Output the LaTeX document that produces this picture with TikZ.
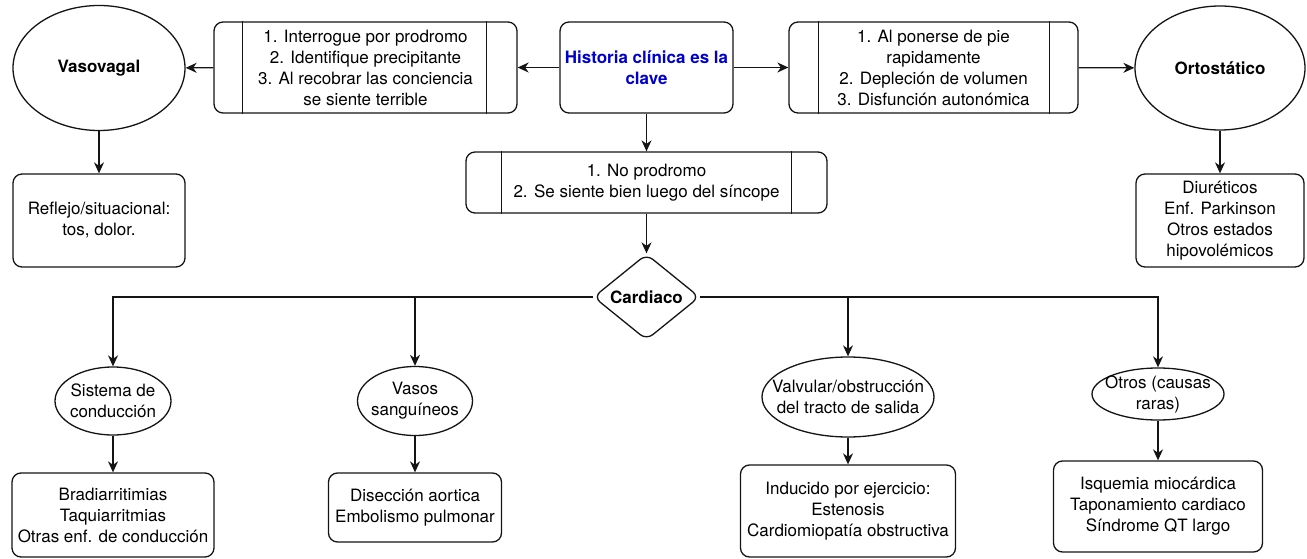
\documentclass[tikz,border=0pt]{standalone}
\usepackage{fontspec}
\setmainfont{TeX Gyre Heros}
\usetikzlibrary{shapes.geometric,arrows.meta}
\definecolor{hblue}{RGB}{0,0,204}
\definecolor{lnc}{RGB}{20,20,20}
\begin{document}
\begin{tikzpicture}[x=1pt,y=-1pt,
  every node/.style={font=\fontsize{17}{21}\selectfont, align=center, inner sep=0pt, line width=1.3pt, draw=lnc, text=black},
  txt/.style={draw=none},
  rbox/.style={draw, rectangle, rounded corners=9pt},
  ell/.style={draw, ellipse},
  bld/.style={font=\fontsize{17}{21}\selectfont\bfseries},
  arr/.style={line width=1.3pt, draw=lnc, -{Stealth[length=11pt,width=10pt,inset=3.5pt]}},
  bar/.style={line width=1.3pt, draw=lnc}
]
\useasboundingbox (0,0) rectangle (1307,559);

% top row
\node[ell, bld, minimum width=172pt, minimum height=125pt] (vaso) at (99,68) {Vasovagal};
\node[rbox, minimum width=172pt, minimum height=93pt] (refl) at (99,220.5) {Reflejo/situacional:\\tos, dolor.};

\node[rbox, minimum width=303pt, minimum height=91pt] (b1) at (365.5,67.5)
  {1. Interrogue por prodromo\\2. Identifique precipitante\\3. Al recobrar las conciencia\\se siente terrible};
\draw[bar] ([xshift=29pt]b1.north west) -- ([xshift=29pt]b1.south west);
\draw[bar] ([xshift=-31pt]b1.north east) -- ([xshift=-31pt]b1.south east);

\node[rbox, minimum width=173pt, minimum height=91pt, font=\fontsize{17}{21}\selectfont\bfseries, text=hblue] (hist) at (646.5,67.5)
  {Historia clínica es la\\clave};

\node[rbox, minimum width=289pt, minimum height=91pt] (b2) at (933.5,67.5)
  {1. Al ponerse de pie\\rapidamente\\2. Depleción de volumen\\3. Disfunción autonómica};
\draw[bar] ([xshift=30pt]b2.north west) -- ([xshift=30pt]b2.south west);
\draw[bar] ([xshift=-29pt]b2.north east) -- ([xshift=-29pt]b2.south east);

\node[ell, bld, minimum width=170pt, minimum height=124pt] (orto) at (1220,68) {Ortostático};
\node[rbox, minimum width=168pt, minimum height=93pt] (diur) at (1220,220.5)
  {Diuréticos\\Enf. Parkinson\\Otros estados\\hipovolémicos};

\node[rbox, minimum width=361pt, minimum height=61pt] (np) at (646.5,182.5)
  {1. No prodromo\\2. Se siente bien luego del síncope};
\draw[bar] ([xshift=36pt]np.north west) -- ([xshift=36pt]np.south west);
\draw[bar] ([xshift=-36pt]np.north east) -- ([xshift=-36pt]np.south east);

\node[diamond, draw, rounded corners=8pt, minimum width=106pt, minimum height=86pt,
  label={[txt, bld]center:Cardiaco}] (card) at (646.5,297) {};

% second level
\node[ell, minimum width=116pt, minimum height=68pt,
  label={[txt, align=center]center:{Sistema de\\conducción}}] (sis) at (113,401) {};
\node[ell, minimum width=115pt, minimum height=69pt,
  label={[txt, align=center]center:{Vasos\\sanguíneos}}] (vas) at (415,401) {};
\node[ell, minimum width=172pt, minimum height=80pt,
  label={[txt, align=center]center:{Valvular/obstrucción\\del tracto de salida}}] (val) at (848,397) {};
\node[ell, minimum width=132pt, minimum height=52pt,
  label={[txt, align=center]center:{Otros (causas\\raras)}}] (otr) at (1158,394) {};

% bottom boxes
\node[rbox, minimum width=202pt, minimum height=84pt] (bra) at (113,515)
  {Bradiarritimias\\Taquiarritmias\\Otras enf. de conducción};
\node[rbox, minimum width=173pt, minimum height=69pt] (dis) at (415,507.5)
  {Disección aortica\\Embolismo pulmonar};
\node[rbox, minimum width=215pt, minimum height=92pt] (ind) at (848,511)
  {Inducido por ejercicio:\\Estenosis\\Cardiomiopatía obstructiva};
\node[rbox, minimum width=209pt, minimum height=91pt] (isq) at (1158,506.5)
  {Isquemia miocárdica\\Taponamiento cardiaco\\Síndrome QT largo};

% connectors
\draw[arr] (hist) -- (b1);
\draw[arr] (b1) -- (vaso);
\draw[arr] (hist) -- (b2);
\draw[arr] (b2) -- (orto);
\draw[arr] (vaso) -- (refl);
\draw[arr] (orto) -- (diur);
\draw[arr] (hist) -- (np);
\draw[arr] (np) -- (card);
\draw[arr] (card.west) -| (sis.north);
\draw[arr] (card.west) -| (vas.north);
\draw[arr] (card.east) -| (val.north);
\draw[arr] (card.east) -| (otr.north);
\draw[arr] (sis) -- (bra);
\draw[arr] (vas) -- (dis);
\draw[arr] (val) -- (ind);
\draw[arr] (otr) -- (isq);
\end{tikzpicture}
\end{document}
